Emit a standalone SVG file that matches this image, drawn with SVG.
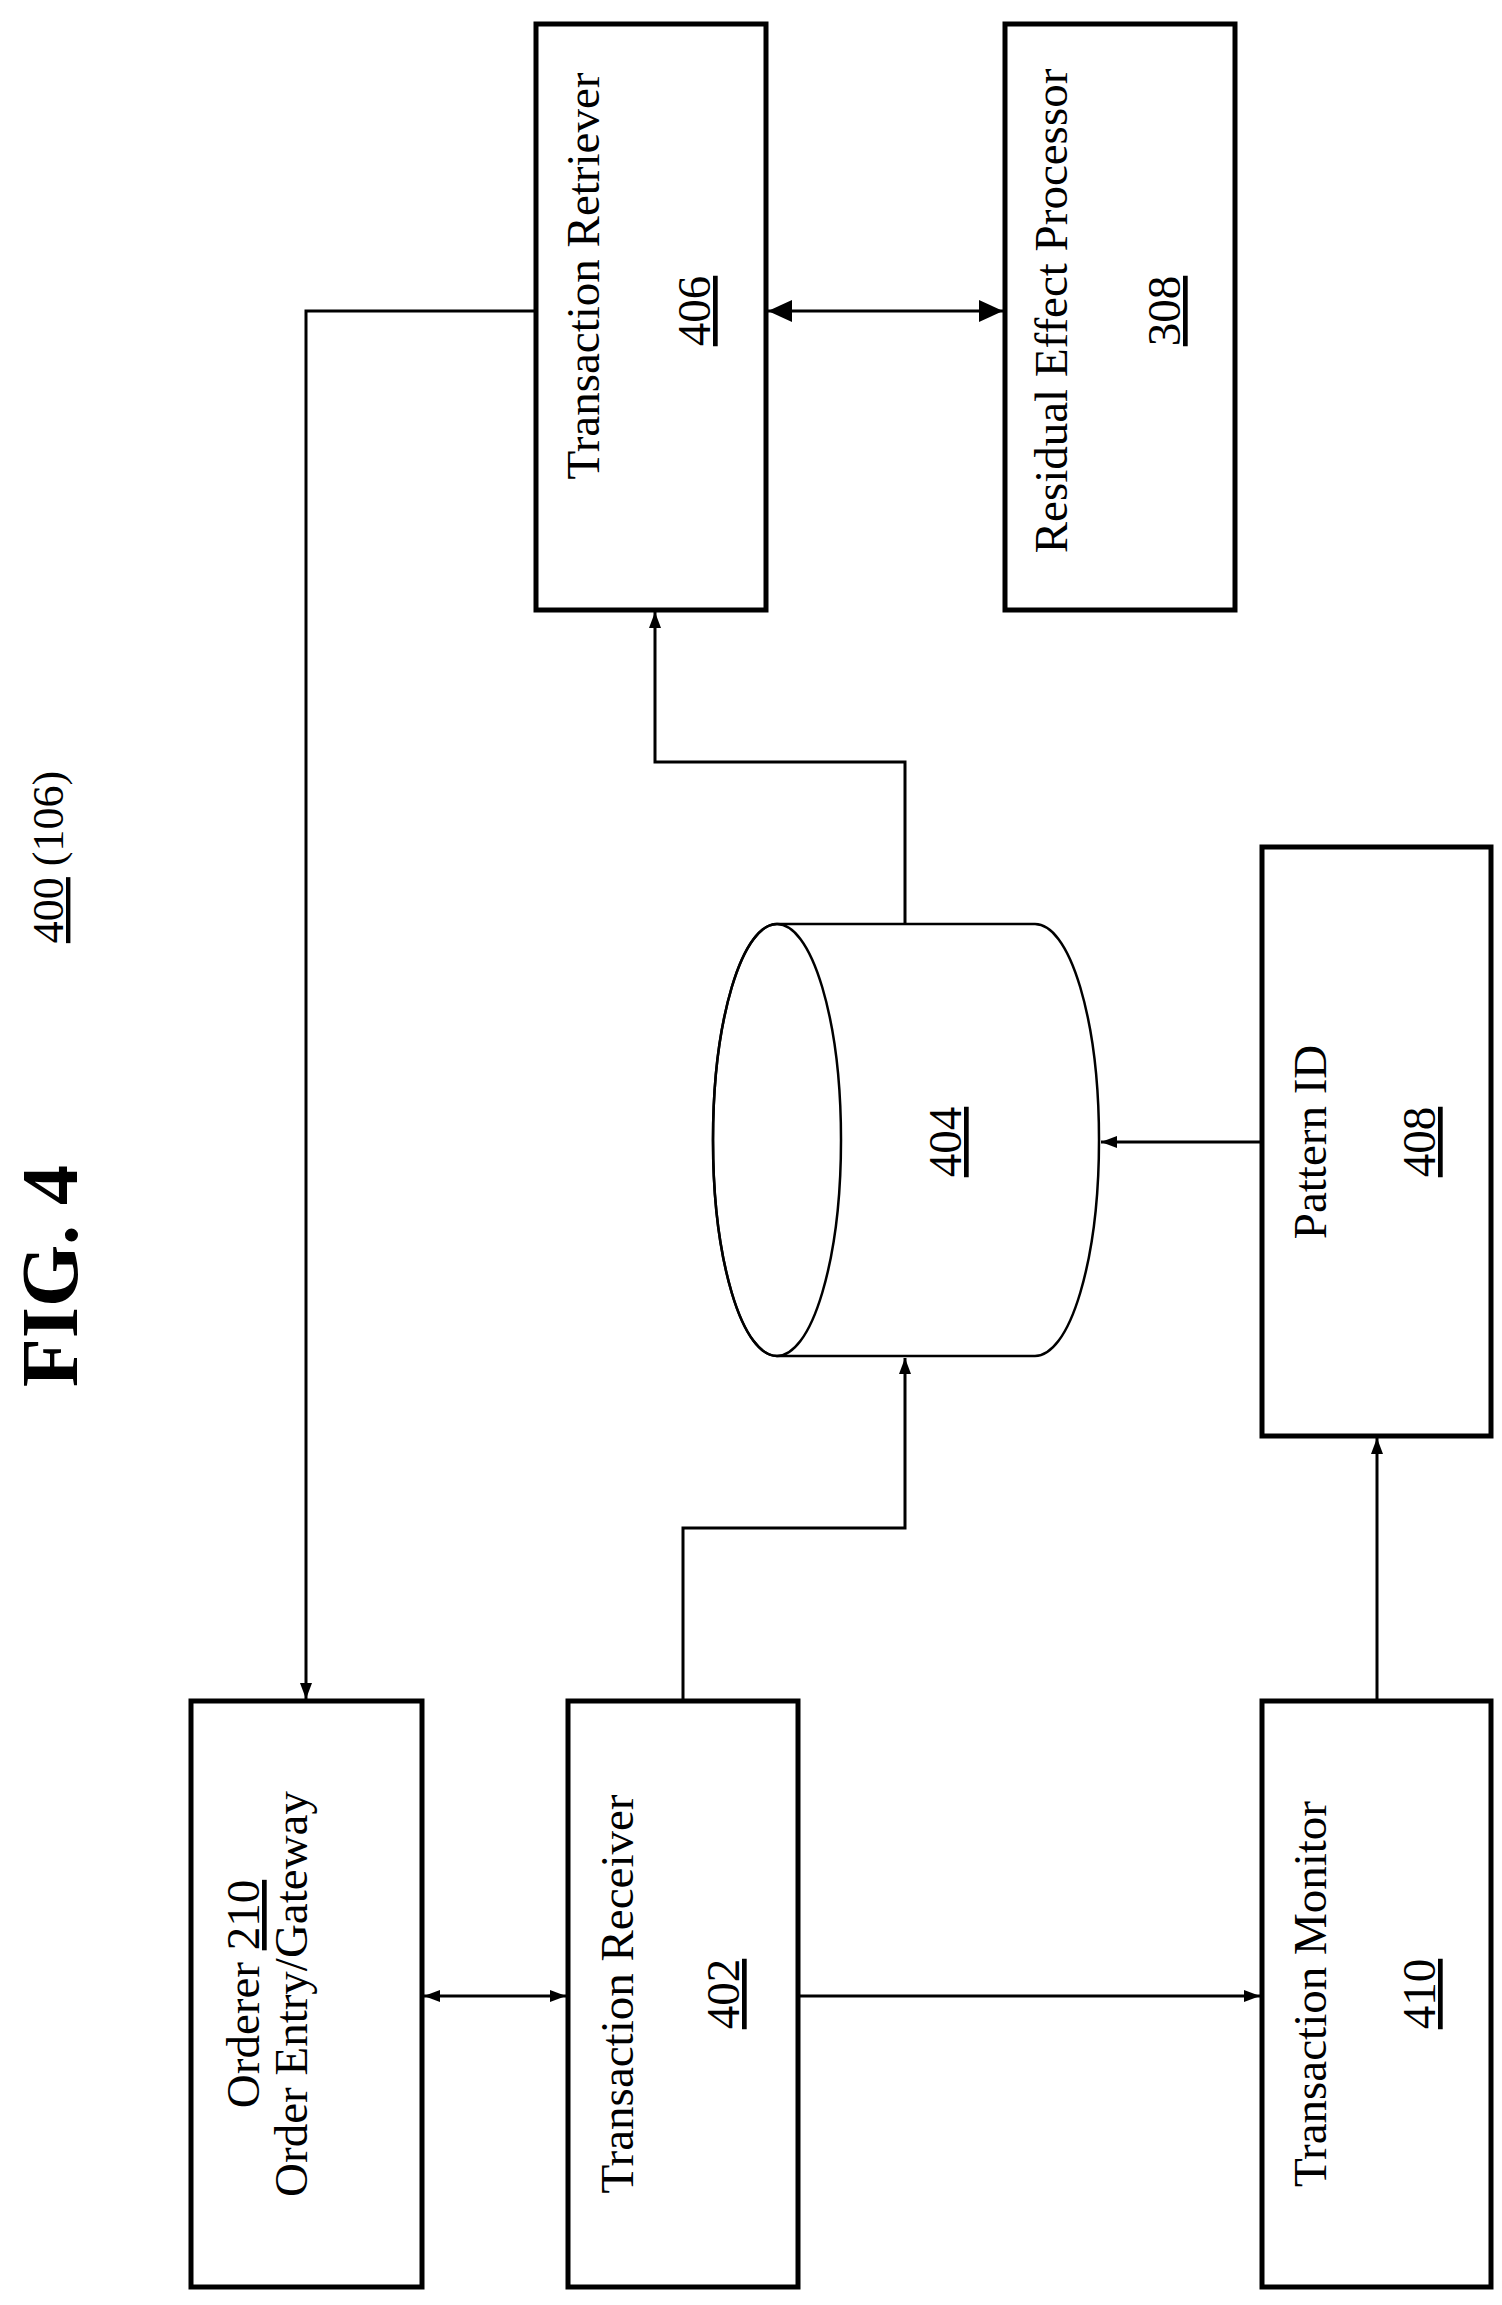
<svg xmlns="http://www.w3.org/2000/svg" width="1502" height="2305" viewBox="0 0 1502 2305">
<style>
.box{fill:#fff;stroke:#000;stroke-width:5}
.t{font-family:"Liberation Serif",serif;font-size:47px;text-anchor:middle;fill:#000}
.c{fill:none;stroke:#000;stroke-width:3}
</style>
<defs>
<marker id="a" markerWidth="16" markerHeight="12" refX="16" refY="6" orient="auto-start-reverse" markerUnits="userSpaceOnUse" viewBox="0 0 16 12">
<path d="M0,0L16,6L0,12z" fill="#000"/>
</marker>
<marker id="b" markerWidth="24" markerHeight="22" refX="24" refY="11" orient="auto-start-reverse" markerUnits="userSpaceOnUse" viewBox="0 0 24 22">
<path d="M0,0L24,11L0,22z" fill="#000"/>
</marker>
</defs>
<rect width="1502" height="2305" fill="#fff"/>
<text class="t" transform="translate(77,1276) rotate(-90)" style="font-size:80px;font-weight:bold">FIG. 4</text>
<text class="t" transform="translate(63,857) rotate(-90)" style="font-size:44px"><tspan text-decoration="underline">400</tspan> (106)</text>
<g id="retriever"><rect class="box" x="536" y="24" width="230" height="586"/>
<text class="t" transform="translate(599,276) rotate(-90)">Transaction Retriever</text>
<text class="t" transform="translate(710,311) rotate(-90)" text-decoration="underline">406</text></g>
<g id="residual"><rect class="box" x="1005" y="24" width="230" height="586"/>
<text class="t" transform="translate(1067,311) rotate(-90)">Residual Effect Processor</text>
<text class="t" transform="translate(1180,311) rotate(-90)" text-decoration="underline">308</text></g>
<g id="orderer"><rect class="box" x="191" y="1701" width="231" height="586"/>
<text class="t" transform="translate(259,1994) rotate(-90)">Orderer <tspan text-decoration="underline">210</tspan></text>
<text class="t" transform="translate(307,1994) rotate(-90)">Order Entry/Gateway</text></g>
<g id="receiver"><rect class="box" x="568" y="1701" width="230" height="586"/>
<text class="t" transform="translate(633,1994) rotate(-90)">Transaction Receiver</text>
<text class="t" transform="translate(739,1994) rotate(-90)" text-decoration="underline">402</text></g>
<g id="monitor"><rect class="box" x="1262" y="1701" width="229" height="586"/>
<text class="t" transform="translate(1326,1994) rotate(-90)">Transaction Monitor</text>
<text class="t" transform="translate(1435,1994) rotate(-90)" text-decoration="underline">410</text></g>
<g id="pattern"><rect class="box" x="1262" y="847" width="229" height="589"/>
<text class="t" transform="translate(1326,1142) rotate(-90)">Pattern ID</text>
<text class="t" transform="translate(1435,1142) rotate(-90)" text-decoration="underline">408</text></g>
<g id="db">
<path d="M777,924 L1035,924 A64,216 0 0 1 1035,1356 L777,1356 A64,216 0 0 1 777,924 Z" fill="#fff" stroke="#000" stroke-width="2.5"/>
<ellipse cx="777" cy="1140" rx="64" ry="216" fill="none" stroke="#000" stroke-width="2.5"/>
<text class="t" transform="translate(961,1142) rotate(-90)" text-decoration="underline">404</text></g>
<g id="connectors">
<path class="c" d="M536,311H306V1699" marker-end="url(#a)"/>
<path class="c" d="M768,311H1003" marker-start="url(#b)" marker-end="url(#b)"/>
<path class="c" d="M905,924V762H655V612" marker-end="url(#a)"/>
<path class="c" d="M683,1701V1528H905V1358" marker-end="url(#a)"/>
<path class="c" d="M1262,1142H1101" marker-end="url(#a)"/>
<path class="c" d="M424,1996H566" marker-start="url(#a)" marker-end="url(#a)"/>
<path class="c" d="M798,1996H1260" marker-end="url(#a)"/>
<path class="c" d="M1377,1701V1438" marker-end="url(#a)"/>
</g>
</svg>
